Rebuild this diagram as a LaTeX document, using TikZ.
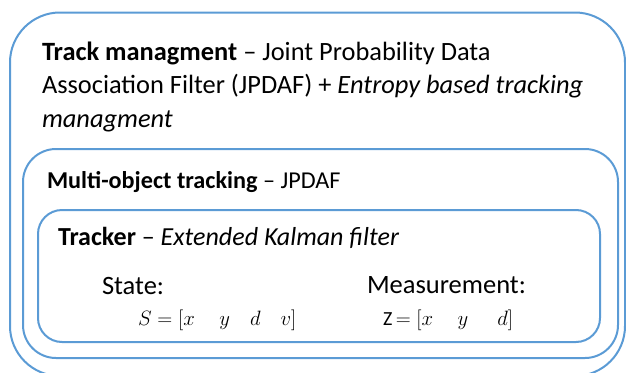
\documentclass[tikz,border=0pt]{standalone}
\usepackage{fontspec}
\setmainfont{Carlito}
\usepackage{tikz}
\definecolor{boxblue}{RGB}{91,155,213}
\tikzset{
  layer/.style={draw=boxblue, line width=2pt},
  lbl/.style={anchor=base west, inner sep=0pt, outer sep=0pt},
}

\begin{document}
\begin{tikzpicture}[x=1pt, y=-1pt]
			%%%%% START %%%%%
			\useasboundingbox (0, 0) rectangle (626, 372);
			\clip (0, 0) rectangle (626, 372);
			
			% nested boxes
			\draw[layer, rounded corners=50pt] (10, 12.5) rectangle (625, 376);
			\draw[layer, rounded corners=33pt] (23, 149) rectangle (618, 358);
			\draw[layer, rounded corners=24pt] (38, 210) rectangle (600, 342);
			
			% track managment (base = last line)
			\node[lbl, align=left, font=\fontsize{26.4}{33.5}\selectfont] (track) at (42, 127)
			{\textbf{Track managment} -- Joint Probability Data\\
			Association Filter (JPDAF) + \textit{Entropy based tracking}\\
			\textit{managment}};
			
			% multi-object tracking
			\node[lbl, font=\fontsize{24.2}{29}\selectfont] (multi) at (47, 188)
			{\textbf{Multi-object tracking} -- JPDAF};
			
			% tracker
			\node[lbl, font=\fontsize{26}{30}\selectfont] (tracker) at (58, 245)
			{\textbf{Tracker} -- \textit{Extended Kalman filter}};
			
			\node[lbl, font=\fontsize{26.5}{30}\selectfont] (state) at (102, 294) {State:};
			\node[lbl, font=\fontsize{26.5}{30}\selectfont] (meas) at (367, 293) {Measurement:};
			
			\node[lbl, font=\fontsize{20}{24}\selectfont] (svec) at (138, 325)
			{$S=[x\quad\ y\quad d\quad v]$};
			\node[lbl, font=\fontsize{20}{24}\selectfont] (zvec) at (383, 325)
			{Z$\,=[x\quad\ y\quad\ \ d]$};
			
			%%%%% END %%%%%
		\end{tikzpicture}
\end{document}
